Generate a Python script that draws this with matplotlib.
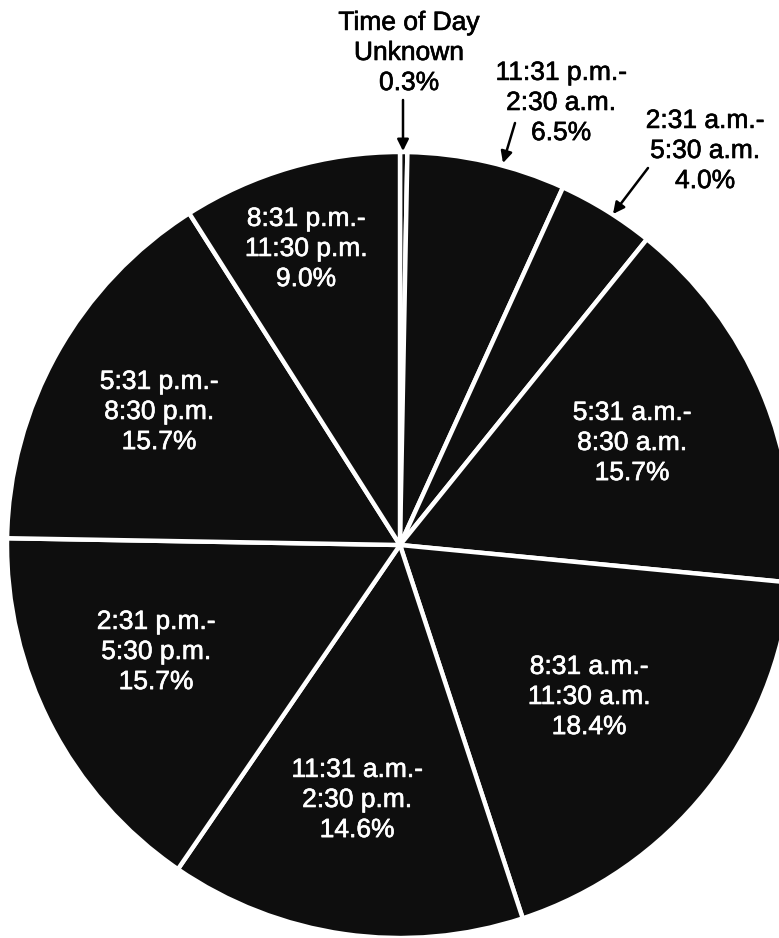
import matplotlib
matplotlib.use("Agg")
import matplotlib.pyplot as plt
import matplotlib.patheffects as pe

plt.rcParams['font.family'] = ['Liberation Sans', 'DejaVu Sans']

# Share of incidents by time of day (clockwise from the top)
time_ranges = [
    "Time of Day\nUnknown",
    "11:31 p.m.-\n2:30 a.m.",
    "2:31 a.m.-\n5:30 a.m.",
    "5:31 a.m.-\n8:30 a.m.",
    "8:31 a.m.-\n11:30 a.m.",
    "11:31 a.m.-\n2:30 p.m.",
    "2:31 p.m.-\n5:30 p.m.",
    "5:31 p.m.-\n8:30 p.m.",
    "8:31 p.m.-\n11:30 p.m.",
]
shares = [0.3, 6.5, 4.0, 15.7, 18.4, 14.6, 15.7, 15.7, 9.0]

W, H = 779, 938
fig = plt.figure(figsize=(W / 100, H / 100), dpi=100)
ax = fig.add_axes([0, 0, 1, 1])


def px(x, y):
    return (x, H - y)


cx, cy = px(400, 545)
ax.pie(shares, startangle=90, counterclock=False, center=(cx, cy), radius=393,
       colors=['#0e0e0e'] * len(shares),
       wedgeprops=dict(edgecolor='white', linewidth=3.2),
       frame=True)
ax.set_xlim(0, W)
ax.set_ylim(0, H)
ax.set_aspect('equal')
ax.axis('off')

labels = [f"{r}\n{v:.1f}%" for r, v in zip(time_ranges, shares)]

# label placement: (text centre, text colour, arrow start, arrow tip)
placements = [
    ((409, 53), 'black', (403, 100), (403, 151)),
    ((561, 103), 'black', (515, 123), (503, 163)),
    ((705, 151), 'black', (648, 168), (613, 214)),
    ((632, 443), 'white', None, None),
    ((589, 697), 'white', None, None),
    ((357, 800), 'white', None, None),
    ((156, 652), 'white', None, None),
    ((159, 412), 'white', None, None),
    ((306, 249), 'white', None, None),
]

for text, (pos, col, a0, a1) in zip(labels, placements):
    ax.text(*px(*pos), text, color=col, ha='center', va='center',
            fontsize=19, linespacing=1.32,
            path_effects=[pe.withStroke(linewidth=0.45, foreground=col)])
    if a0 is not None:
        ax.annotate('', xy=px(*a1), xytext=px(*a0),
                    arrowprops=dict(arrowstyle='-|>', color='black', lw=1.8,
                                    mutation_scale=17, shrinkA=0, shrinkB=0))

fig.savefig('out.png', dpi=100, facecolor='white')
